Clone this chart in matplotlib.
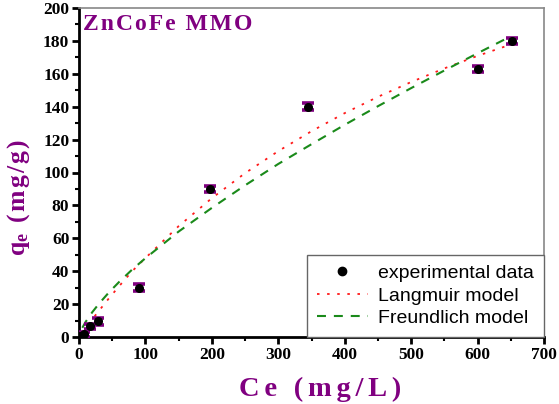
import matplotlib
matplotlib.use("Agg")
import matplotlib.pyplot as plt
from matplotlib.lines import Line2D
from matplotlib.ticker import MultipleLocator

plt.rcParams["mathtext.fontset"] = "custom"
plt.rcParams["mathtext.bf"] = "Liberation Serif:bold"
plt.rcParams["mathtext.rm"] = "Liberation Serif:bold"
plt.rcParams["mathtext.it"] = "Liberation Serif:bold"

# Experimental data
ce_exp = [2, 7, 16, 29, 90, 197, 345, 600, 652]
qe_exp = [0.5, 1.8, 6.5, 9.5, 30, 90, 140, 163, 180]
qe_err = [1.5, 1.5, 1.5, 2, 2, 2, 2, 2, 2]

# Model curves
ce_model = [5, 10, 20, 30, 45, 60, 80, 100, 150, 200, 250, 300, 350, 400,
            450, 500, 550, 600, 650]
q_langmuir = [2.8, 5.5, 10.8, 15.9, 23.5, 30.7, 40.0, 48.0, 67.4, 84.4, 99.6,
              113.0, 125.1, 136.1, 146.0, 155.0, 163.3, 170.9, 177.8]
q_freundlich = [5.6, 9.2, 15.1, 20.2, 27.1, 33.3, 41.0, 47.9, 64.1, 78.5, 92.2,
                105.2, 117.2, 129.0, 140.3, 151.3, 162.0, 172.5, 182.8]

title_text = "ZnCoFe MMO"
xlabel_text = "Ce (mg/L)"
legend_labels = ["experimental data", "Langmuir model", "Freundlich model"]

purple = "#800080"
serif = ["Liberation Serif", "DejaVu Serif"]
sans = ["Liberation Sans", "DejaVu Sans"]
HAIR = "\u200a"


def spaced(s, sep):
    return sep.join(s)


fig = plt.figure(figsize=(5.59, 4.04), dpi=100)
ax = fig.add_axes([79/559, 1-337/404, (544-79)/559, (337-8)/404])

red = "#ff1a1a"
green = "#1a8a1a"
ax.plot(ce_model, q_langmuir, color=red, lw=1.3, linestyle=(0, (1.4, 4.2)),
        zorder=2)
ax.plot(ce_model, q_freundlich, color=green, lw=1.5, linestyle=(0, (4.3, 3.8)),
        zorder=2)
ax.errorbar(ce_exp, qe_exp, yerr=qe_err, fmt="o", color="black", ms=5.5,
            ecolor=purple, elinewidth=2.4, capsize=4.5, capthick=2.6, zorder=3)

ax.set_xlim(0, 700)
ax.set_ylim(0, 200)
ax.xaxis.set_major_locator(MultipleLocator(100))
ax.xaxis.set_minor_locator(MultipleLocator(50))
ax.yaxis.set_major_locator(MultipleLocator(20))
ax.yaxis.set_minor_locator(MultipleLocator(10))

for side in ["left", "bottom"]:
    ax.spines[side].set_linewidth(2)
    ax.spines[side].set_color("black")
for side in ["right", "top"]:
    ax.spines[side].set_linewidth(1.2)
    ax.spines[side].set_color("#888888")

ax.tick_params(which="major", direction="out", length=5, width=2,
               top=False, right=False, pad=2)
ax.tick_params(which="minor", direction="out", length=3, width=1.5,
               top=False, right=False)
for lbl in ax.get_xticklabels() + ax.get_yticklabels():
    lbl.set_fontfamily(serif)
    lbl.set_fontweight("bold")
    lbl.set_fontsize(12.5)

fig.text(320/559, 1-389/404, spaced(xlabel_text, HAIR + HAIR), family=serif,
         fontweight="bold", fontsize=20.5, color=purple, ha="center",
         va="center")
fig.text(19/559, 1-198/404,
         r"$\mathbf{q}_{\mathbf{e}}$" + HAIR + spaced(" (mg/g)", HAIR),
         family=serif, fontweight="bold", fontsize=18.5, color=purple,
         ha="center", va="center", rotation=90)

ax.text(83/559, 1-25/404, spaced(title_text, HAIR), transform=fig.transFigure,
        family=serif, fontweight="bold", fontsize=17, color=purple,
        va="center", ha="left")

handles = [
    Line2D([], [], marker="o", color="black", linestyle="none", ms=6),
    Line2D([], [], color=red, lw=1.3, linestyle=(0, (1.4, 4.2))),
    Line2D([], [], color=green, lw=1.5, linestyle=(0, (4.3, 3.8))),
]
leg = ax.legend(handles, legend_labels, loc="lower right",
                bbox_to_anchor=(1, 0), borderaxespad=0, fancybox=False,
                edgecolor="#666666", framealpha=1,
                prop={"family": sans, "size": 14},
                handlelength=2.6, handletextpad=0.55, labelspacing=0.26,
                borderpad=0.5)
leg.get_frame().set_linewidth(1.0)

fig.savefig("out.png", dpi=100)
